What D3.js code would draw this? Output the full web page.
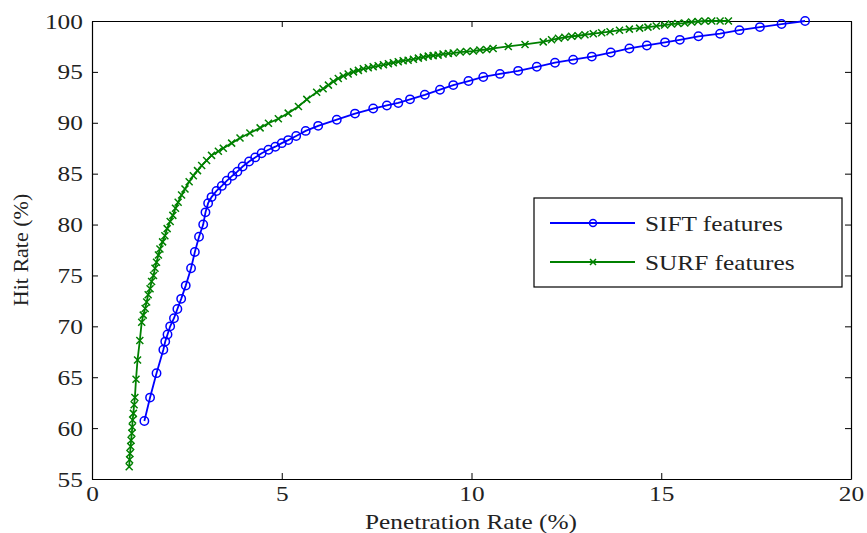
<!DOCTYPE html>
<html>
<head>
<meta charset="utf-8">
<script src="https://cdn.jsdelivr.net/npm/d3@7"></script>
<style>
  body { margin: 0; background: #fff; }
  text { font-family: "Liberation Serif", "Times New Roman", serif; fill: #222; }
</style>
</head>
<body>
<div id="chart"></div>
<script>
// values: [penetration rate %, hit rate %]
var siftData = [
  [1.38,60.7],[1.53,63.0],[1.70,65.4],[1.88,67.7],[1.93,68.5],[1.99,69.2],[2.06,70.0],
  [2.16,70.8],[2.25,71.7],[2.35,72.7],[2.47,74.0],[2.61,75.7],[2.71,77.3],[2.82,78.8],
  [2.93,80.0],[2.99,81.2],[3.06,82.1],[3.15,82.7],[3.28,83.3],[3.42,83.8],[3.55,84.3],
  [3.70,84.8],[3.83,85.2],[3.97,85.7],[4.14,86.2],[4.30,86.6],[4.47,87.0],[4.65,87.35],
  [4.83,87.65],[5.00,88.0],[5.17,88.3],[5.38,88.7],[5.63,89.2],[5.96,89.7],[6.45,90.3],
  [6.93,90.9],[7.41,91.4],[7.77,91.7],[8.07,91.95],[8.38,92.3],[8.77,92.75],[9.17,93.25],
  [9.52,93.7],[9.92,94.1],[10.31,94.5],[10.75,94.8],[11.23,95.1],[11.72,95.5],[12.20,95.9],
  [12.68,96.2],[13.17,96.5],[13.67,96.9],[14.16,97.3],[14.62,97.6],[15.10,97.9],[15.49,98.15],
  [15.98,98.5],[16.55,98.75],[17.06,99.1],[17.60,99.4],[18.17,99.7],[18.79,100.0]
];

var surfData = [
  [0.98,56.2],[0.99,56.9],[1.00,57.5],[1.02,58.2],[1.03,58.8],[1.05,59.5],[1.06,60.1],
  [1.07,60.8],[1.09,61.45],[1.11,62.3],[1.13,63.0],[1.16,64.8],[1.20,66.7],[1.26,68.6],
  [1.31,70.4],[1.35,71.1],[1.40,71.75],[1.44,72.4],[1.48,73.1],[1.53,73.7],[1.57,74.4],
  [1.62,75.0],[1.66,75.7],[1.70,76.3],[1.75,77.0],[1.79,77.6],[1.86,78.3],[1.92,78.9],
  [1.98,79.6],[2.06,80.3],[2.13,80.9],[2.20,81.6],[2.27,82.2],[2.36,82.9],[2.45,83.5],
  [2.56,84.2],[2.67,84.8],[2.78,85.3],[2.89,85.8],[3.02,86.3],[3.15,86.8],[3.33,87.2],
  [3.46,87.5],[3.68,88.0],[3.90,88.5],[4.16,89.0],[4.43,89.5],[4.65,89.95],[4.91,90.4],
  [5.17,90.95],[5.44,91.6],[5.66,92.3],[5.92,93.0],[6.09,93.35],[6.23,93.7],[6.36,94.05],
  [6.49,94.35],[6.62,94.6],[6.75,94.8],[6.89,95.0],[7.02,95.15],[7.15,95.3],[7.28,95.4],
  [7.41,95.5],[7.54,95.6],[7.68,95.7],[7.81,95.8],[7.94,95.9],[8.07,96.0],[8.20,96.1],
  [8.33,96.15],[8.47,96.25],[8.60,96.35],[8.73,96.45],[8.86,96.55],[8.99,96.6],[9.12,96.65],
  [9.25,96.75],[9.39,96.8],[9.52,96.85],[9.70,96.95],[9.87,97.0],[10.05,97.05],[10.22,97.15],
  [10.40,97.2],[10.57,97.3],[10.97,97.5],[11.41,97.7],[11.89,97.95],[12.11,98.15],[12.29,98.3],
  [12.46,98.4],[12.64,98.5],[12.81,98.55],[12.99,98.65],[13.21,98.75],[13.43,98.85],[13.65,98.95],
  [13.90,99.1],[14.16,99.2],[14.43,99.3],[14.65,99.4],[14.87,99.5],[15.09,99.6],[15.27,99.7],
  [15.44,99.75],[15.62,99.8],[15.80,99.9],[15.97,99.95],[16.15,100],[16.33,100],[16.55,100],
  [16.77,100]
];

var xTicks = [0, 5, 10, 15, 20];
var yTicks = [55, 60, 65, 70, 75, 80, 85, 90, 95, 100];
var seriesNames = ["SIFT features", "SURF features"];
var seriesColors = ["#0000ff", "#008000"];

var width = 867, height = 533;
var stretch = 1.15; // the source figure's text is a bit wide
var svg = d3.select("#chart").append("svg")
    .attr("width", width)
    .attr("height", height);

// scales
var xScale = d3.scaleLinear().domain([0, 20]).range([92, 851]);
var yScale = d3.scaleLinear().domain([55, 100]).range([479, 21]);

// axes (inward ticks, boxed like matlab)
svg.append("g")
    .attr("transform", "translate(0,479)")
    .call(d3.axisBottom(xScale).tickValues(xTicks).tickSize(-6).tickSizeOuter(0).tickPadding(6))
    .call(g => g.selectAll("text").style("font-size", "22px").attr("fill", "#222")
        .attr("transform", "scale(" + stretch + ",1)"));
svg.append("g")
    .attr("transform", "translate(92,0)")
    .call(d3.axisLeft(yScale).tickValues(yTicks).tickSize(-6).tickSizeOuter(0).tickPadding(8))
    .call(g => g.selectAll("text").style("font-size", "22px").attr("fill", "#222")
        .attr("transform", "scale(" + stretch + ",1)"));
svg.append("g")
    .attr("transform", "translate(0,21)")
    .call(d3.axisTop(xScale).tickValues(xTicks).tickSize(-6).tickSizeOuter(0).tickFormat(""));
svg.append("g")
    .attr("transform", "translate(851,0)")
    .call(d3.axisRight(yScale).tickValues(yTicks).tickSize(-6).tickSizeOuter(0).tickFormat(""));

svg.selectAll(".domain").attr("stroke", "#000").attr("stroke-width", 1.2);
svg.selectAll(".tick line").attr("stroke", "#000");

// axis labels
svg.append("text")
    .attr("transform", "translate(471,529) scale(" + stretch + ",1)")
    .attr("text-anchor", "middle")
    .style("font-size", "22px")
    .text("Penetration Rate (%)");
svg.append("text")
    .attr("transform", "translate(28,250) rotate(-90)")
    .attr("text-anchor", "middle")
    .style("font-size", "22px")
    .text("Hit Rate (%)");

var line = d3.line()
    .x(d => xScale(d[0]))
    .y(d => yScale(d[1]));

// SURF series
svg.append("path")
    .datum(surfData)
    .attr("d", line)
    .attr("fill", "none")
    .attr("stroke", seriesColors[1])
    .attr("stroke-width", 1.8);
var xMark = "M-3.5,-3.5L3.5,3.5M-3.5,3.5L3.5,-3.5";
svg.selectAll(".surf-pt")
    .data(surfData)
    .enter().append("path")
    .attr("class", "surf-pt")
    .attr("transform", d => "translate(" + xScale(d[0]) + "," + yScale(d[1]) + ")")
    .attr("d", xMark)
    .attr("stroke", seriesColors[1])
    .attr("stroke-width", 1.5);

// SIFT series
svg.append("path")
    .datum(siftData)
    .attr("d", line)
    .attr("fill", "none")
    .attr("stroke", seriesColors[0])
    .attr("stroke-width", 1.8);
svg.selectAll(".sift-pt")
    .data(siftData)
    .enter().append("circle")
    .attr("class", "sift-pt")
    .attr("cx", d => xScale(d[0]))
    .attr("cy", d => yScale(d[1]))
    .attr("r", 4.2)
    .attr("fill", "none")
    .attr("stroke", seriesColors[0])
    .attr("stroke-width", 1.5);

// legend
var legend = svg.append("g");
legend.append("rect")
    .attr("x", 534).attr("y", 198)
    .attr("width", 308).attr("height", 89)
    .attr("fill", "#fff")
    .attr("stroke", "#000")
    .attr("stroke-width", 1.2);
seriesNames.forEach(function(name, i) {
    var ly = 223 + i * 39;
    legend.append("line")
        .attr("x1", 550).attr("x2", 635)
        .attr("y1", ly).attr("y2", ly)
        .attr("stroke", seriesColors[i])
        .attr("stroke-width", 2);
    if (i === 0) {
        legend.append("circle")
            .attr("cx", 593).attr("cy", ly).attr("r", 3.5)
            .attr("fill", "none").attr("stroke", seriesColors[i]).attr("stroke-width", 1.5);
    } else {
        legend.append("path")
            .attr("transform", "translate(593," + ly + ")")
            .attr("d", "M-3,-3L3,3M-3,3L3,-3")
            .attr("stroke", seriesColors[i]).attr("stroke-width", 1.5);
    }
    legend.append("text")
        .attr("transform", "translate(645," + (ly + 8) + ") scale(" + stretch + ",1)")
        .style("font-size", "22px")
        .text(name);
});
</script>
</body>
</html>
